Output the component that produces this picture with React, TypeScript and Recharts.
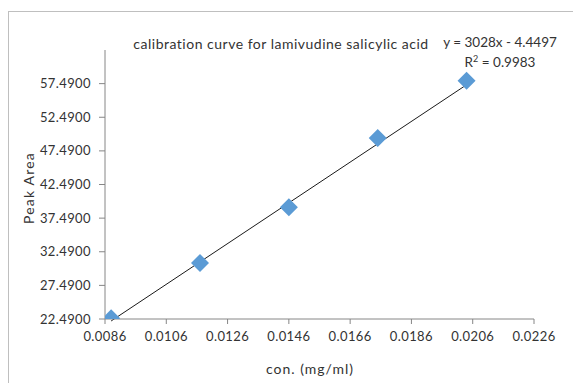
import React from 'react';
import {
  ScatterChart,
  Scatter,
  XAxis,
  YAxis,
  ReferenceLine,
} from 'recharts';

// concentration (mg/ml) vs peak area
const concentrations = [0.0088, 0.0117, 0.0146, 0.0175, 0.0204];
const peakAreas = [22.6, 30.8, 39.1, 49.4, 57.9];

const xTicks = [0.0086, 0.0106, 0.0126, 0.0146, 0.0166, 0.0186, 0.0206, 0.0226];
const yTicks = [22.49, 27.49, 32.49, 37.49, 42.49, 47.49, 52.49, 57.49];

// linear fit shown in the equation label
const slope = 3028;
const intercept = -4.4497;
const rSquared = 0.9983;

const points = concentrations.map((x, i) => ({ x, y: peakAreas[i] }));
const xMin = concentrations[0];
const xMax = concentrations[concentrations.length - 1];
const trend = [
  { x: xMin, y: slope * xMin + intercept },
  { x: xMax, y: slope * xMax + intercept },
];

const axisColor = '#868686';
const textColor = '#333';
const font = 'Lato, "Liberation Sans", sans-serif';

const Diamond = (props: any) => {
  const { cx, cy } = props;
  const r = 9;
  return (
    <polygon
      points={`${cx},${cy - r} ${cx + r},${cy} ${cx},${cy + r} ${cx - r},${cy}`}
      fill="#5b9bd5"
    />
  );
};

const tickStyle = { fontSize: 13, fill: textColor, fontFamily: font, letterSpacing: 0.4 };

export default function App() {
  return (
    <div style={{ position: 'absolute', left: 0, top: 0, width: 573, height: 383, overflow: 'hidden', background: '#fff' }}>
      <div
        style={{
          position: 'absolute',
          left: 8,
          top: 11,
          width: 620,
          height: 420,
          border: '1px solid #bfbfbf',
        }}
      />
      <div style={{ position: 'absolute', left: 0, top: 0 }}>
        <ScatterChart width={573} height={383} margin={{ top: 50, right: 39, bottom: 0, left: 0 }}>
          <XAxis
            type="number"
            dataKey="x"
            domain={[0.0086, 0.0226]}
            ticks={xTicks}
            tickFormatter={(v: number) => v.toFixed(4)}
            stroke={axisColor}
            tick={tickStyle}
            tickSize={5}
            tickMargin={8}
            height={64}
            allowDataOverflow
          />
          <YAxis
            type="number"
            dataKey="y"
            domain={[22.49, 62.49]}
            ticks={yTicks}
            tickFormatter={(v: number) => v.toFixed(4)}
            stroke={axisColor}
            tick={tickStyle}
            tickSize={6}
            tickMargin={8}
            width={105}
            allowDataOverflow
          />
          <Scatter data={points} shape={Diamond} isAnimationActive={false} />
          <ReferenceLine
            segment={trend}
            stroke="#1a1a1a"
            strokeWidth={1}
            ifOverflow="visible"
          />
        </ScatterChart>
      </div>
      <div
        style={{
          position: 'absolute',
          left: 281,
          top: 43,
          transform: 'translate(-50%, -50%)',
          whiteSpace: 'nowrap',
          fontFamily: font,
          fontSize: 14,
          letterSpacing: 0.5,
          color: textColor,
        }}
      >
        calibration curve for lamivudine salicylic acid
      </div>
      <div
        style={{
          position: 'absolute',
          left: 500,
          top: 32,
          transform: 'translateX(-50%)',
          whiteSpace: 'nowrap',
          fontFamily: font,
          fontSize: 13.5,
          lineHeight: '20px',
          color: textColor,
          textAlign: 'center',
        }}
      >
        <div>{`y = ${slope}x - ${Math.abs(intercept)}`}</div>
        <div>
          R<sup style={{ fontSize: 9, lineHeight: 0 }}>2</sup> = {rSquared}
        </div>
      </div>
      <div
        style={{
          position: 'absolute',
          left: 310,
          top: 368,
          transform: 'translate(-50%, -50%)',
          whiteSpace: 'nowrap',
          fontFamily: font,
          fontSize: 14,
          letterSpacing: 1,
          color: textColor,
        }}
      >
        con. (mg/ml)
      </div>
      <div
        style={{
          position: 'absolute',
          left: 28,
          top: 188,
          transform: 'translate(-50%, -50%) rotate(-90deg)',
          whiteSpace: 'nowrap',
          fontFamily: font,
          fontSize: 14,
          letterSpacing: 1.2,
          color: textColor,
        }}
      >
        Peak Area
      </div>
    </div>
  );
}
